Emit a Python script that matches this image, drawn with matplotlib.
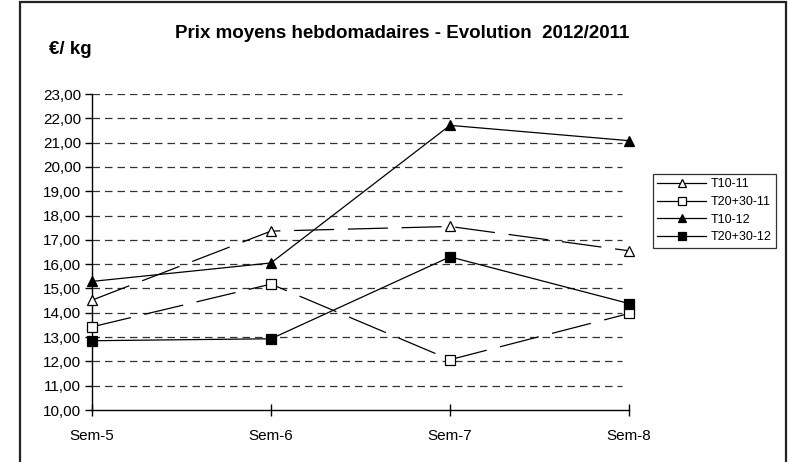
import matplotlib.pyplot as plt
from matplotlib.lines import Line2D
from matplotlib.patches import Rectangle

plt.rcParams['font.family'] = ['Liberation Sans', 'DejaVu Sans']

weeks = ['Sem-5', 'Sem-6', 'Sem-7', 'Sem-8']
t10_11 = [14.52, 17.36, 17.55, 16.55]
t2030_11 = [13.42, 15.18, 12.07, 13.97]
t10_12 = [15.29, 16.05, 21.71, 21.08]
t2030_12 = [12.85, 12.93, 16.30, 14.38]
yticks = [10, 11, 12, 13, 14, 15, 16, 17, 18, 19, 20, 21, 22, 23]

fig = plt.figure(figsize=(7.91, 4.62), dpi=100)
ax = fig.add_axes([92 / 791, 1 - 410 / 462, (629 - 92) / 791, (410 - 94) / 462])

# outer chart border (bottom edge falls outside the image)
fig.patches.append(Rectangle((20 / 791, -0.05), (786 - 20) / 791, 1.05 - 2 / 462,
                             transform=fig.transFigure, fill=False,
                             edgecolor='#222222', linewidth=1.6))

x = list(range(len(weeks)))
dash = (0, (32, 11))
series = [
    ('T10-11', t10_11, '^', 'white', dash),
    ('T20+30-11', t2030_11, 's', 'white', dash),
    ('T10-12', t10_12, '^', 'black', '-'),
    ('T20+30-12', t2030_12, 's', 'black', '-'),
]
handles = []
for name, vals, mk, fc, ls in series:
    ax.plot(x, vals, color='black', lw=0.9, ls=ls, marker=mk, ms=6.5,
            mfc=fc, mec='black', mew=0.9, zorder=3, clip_on=False)
    handles.append(Line2D([], [], color='black', lw=0.9, marker=mk, ms=6,
                          mfc=fc, mec='black', mew=0.9))

for v in yticks[1:]:
    ax.plot([0, 2.96], [v, v], color='#333333', lw=0.9, ls=(0, (6, 4)), zorder=1)

ax.set_xlim(0, 3)
ax.set_ylim(10, 23)
ax.set_xticks(x)
ax.set_xticklabels(weeks, fontsize=11)
ax.set_yticks(yticks)
ax.yaxis.set_major_formatter(plt.FuncFormatter(lambda v, p: ('%.2f' % v).replace('.', ',')))
ax.tick_params(axis='y', labelsize=11)
for s in ['top', 'right']:
    ax.spines[s].set_visible(False)
ax.spines['left'].set_linewidth(1)
ax.spines['bottom'].set_linewidth(1)
ax.tick_params(axis='y', direction='out', length=5, width=1, pad=3)
ax.tick_params(axis='x', direction='inout', length=9, width=1, pad=9)

fig.text(402 / 791, 1 - 33 / 462, 'Prix moyens hebdomadaires - Evolution  2012/2011',
         ha='center', va='center', fontsize=13.5, fontweight='bold')
fig.text(49 / 791, 1 - 50 / 462, '€/ kg', ha='left', va='center',
         fontsize=13.5, fontweight='bold')

leg = fig.legend(handles, [s[0] for s in series], loc='upper left',
                 bbox_to_anchor=(653 / 791, 1 - 174 / 462), fontsize=9,
                 frameon=True, fancybox=False, edgecolor='black',
                 handlelength=3.9, borderaxespad=0, labelspacing=0.45,
                 handletextpad=0.4, borderpad=0.35)
leg.get_frame().set_linewidth(0.9)

fig.savefig('out.png', dpi=100)
